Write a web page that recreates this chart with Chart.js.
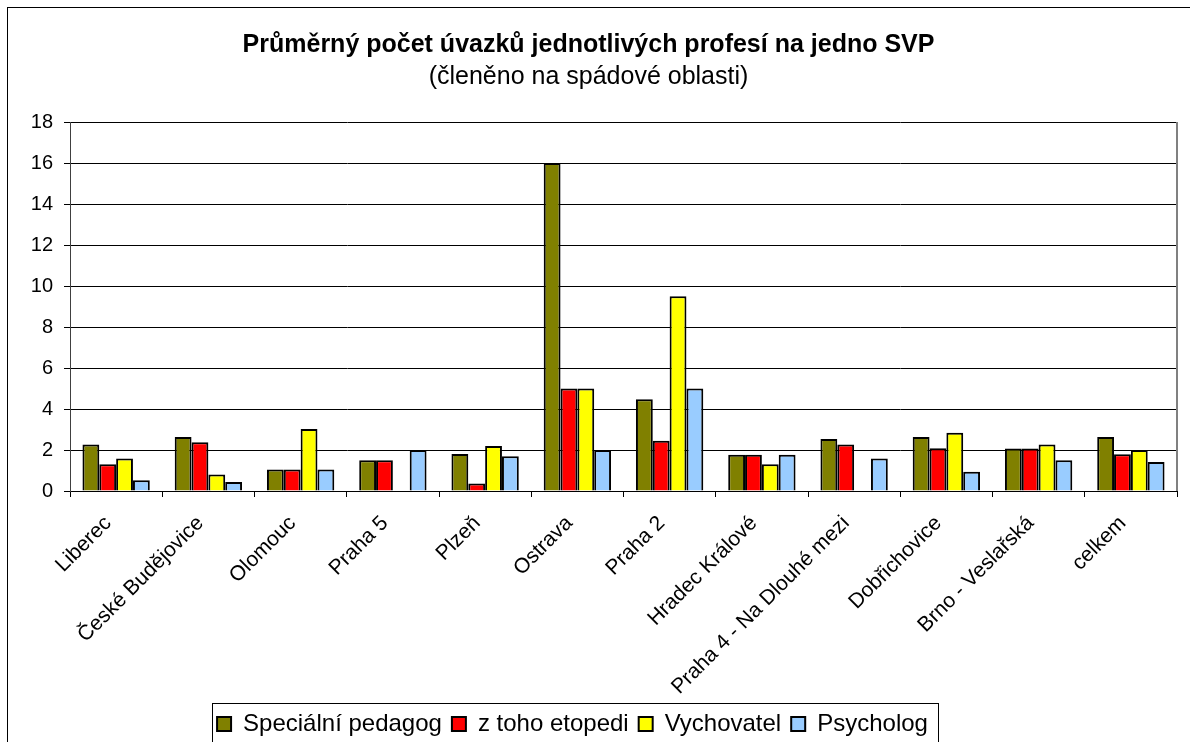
<!DOCTYPE html>
<html>
<head>
<meta charset="utf-8">
<script src="https://cdn.jsdelivr.net/npm/chart.js@4/dist/chart.umd.min.js"></script>
<style>
  html, body { margin: 0; padding: 0; background: #fff; overflow: hidden; }
  #wrap { position: relative; width: 1190px; height: 742px; }
</style>
</head>
<body>
<div id="wrap"><canvas id="c" width="1190" height="742"></canvas></div>
<script>
const categories = ['Liberec', 'České Budějovice', 'Olomouc', 'Praha 5', 'Plzeň', 'Ostrava', 'Praha 2', 'Hradec Králové', 'Praha 4 - Na Dlouhé mezi', 'Dobřichovice', 'Brno - Veslařská', 'celkem'];
const specialniPedagog = [2.27, 2.64, 1.05, 1.5, 1.8, 16, 4.47, 1.77, 2.54, 2.64, 2.07, 2.64];
const ztohoEtopedi = [1.3, 2.38, 1.05, 1.5, 0.36, 5, 2.45, 1.77, 2.27, 2.08, 2.07, 1.79];
const vychovatel = [1.58, 0.8, 3.03, null, 2.2, 5, 9.5, 1.3, null, 2.84, 2.27, 2.0];
const psycholog = [0.53, 0.44, 1.05, 2.0, 1.7, 2.0, 5.0, 1.77, 1.59, 0.94, 1.5, 1.41];
const seriesNames = ['Speciální pedagog', 'z toho etopedi', 'Vychovatel', 'Psycholog'];
const yTicks = [0, 2, 4, 6, 8, 10, 12, 14, 16, 18];
const titleText = 'Průměrný počet úvazků jednotlivých profesí na jedno SVP';
const subtitleText = '(členěno na spádové oblasti)';

const FONT = '"Liberation Sans", Arial, sans-serif';
const PLOT_LEFT = 70, PLOT_BOTTOM = 491;

const framePlugin = {
  id: 'frame',
  afterLayout(chart) {
    const lg = chart.legend;
    if (lg) { lg.left -= 16; lg.right -= 16; lg.top += 4; lg.bottom += 4; }
  },
  afterDraw(chart) {
    const ctx = chart.ctx;
    const a = chart.chartArea;
    ctx.save();
    ctx.strokeStyle = '#000';
    ctx.lineWidth = 1;
    ctx.strokeRect(7.5, 7.5, 1400, 1000);
    ctx.strokeStyle = '#808080';
    ctx.lineWidth = 2;
    ctx.beginPath();
    ctx.moveTo(a.right, a.top);
    ctx.lineTo(a.right, a.bottom);
    ctx.stroke();
    ctx.strokeStyle = '#000';
    ctx.lineWidth = 1;
    ctx.strokeRect(212.5, 703.5, 726, 80);
    ctx.restore();
  }
};

new Chart(document.getElementById('c'), {
  type: 'bar',
  data: {
    labels: categories,
    datasets: [
      { label: seriesNames[0], data: specialniPedagog, backgroundColor: '#808000' },
      { label: seriesNames[1], data: ztohoEtopedi, backgroundColor: '#FF0000' },
      { label: seriesNames[2], data: vychovatel, backgroundColor: '#FFFF00' },
      { label: seriesNames[3], data: psycholog, backgroundColor: '#99CCFF' }
    ].map(d => Object.assign(d, { borderColor: '#000', borderWidth: 2, barPercentage: 1.0, categoryPercentage: 0.73 }))
  },
  options: {
    responsive: false,
    animation: false,
    devicePixelRatio: 1,
    layout: { padding: { left: 0, right: 13, top: 0, bottom: 0 } },
    plugins: {
      title: {
        display: true, text: titleText, color: '#000',
        font: { family: FONT, size: 25, weight: 'bold', lineHeight: 1.2 },
        padding: { top: 30, bottom: 0 }
      },
      subtitle: {
        display: true, text: subtitleText, color: '#000',
        font: { family: FONT, size: 25, weight: 'normal', lineHeight: 1.2 },
        padding: { top: 2, bottom: 30 }
      },
      legend: {
        display: true, position: 'bottom',
        labels: {
          color: '#000', font: { family: FONT, size: 24 },
          boxWidth: 14, boxHeight: 14, padding: 10
        }
      },
      tooltip: { enabled: false }
    },
    scales: {
      x: {
        grid: { display: true, drawOnChartArea: false, drawTicks: true, tickLength: 6, color: '#000', offset: true },
        border: { display: true, color: '#000', width: 1 },
        ticks: { color: '#000', font: { family: FONT, size: 21 }, minRotation: 45, maxRotation: 45, padding: 14, labelOffset: -8, autoSkip: false },
        afterFit(scale) {
          const lh = scale.chart.legend ? scale.chart.legend.height : 0;
          scale.height = scale.chart.height - PLOT_BOTTOM - lh;
        }
      },
      y: {
        min: 0, max: 18,
        afterBuildTicks(scale) { scale.ticks = yTicks.map(v => ({ value: v })); },
        grid: { color: '#000', lineWidth: 1, tickLength: 6, tickColor: '#000' },
        border: { display: true, color: '#404040', width: 1 },
        ticks: { color: '#000', font: { family: FONT, size: 20 }, padding: 11 },
        afterFit(scale) { scale.width = PLOT_LEFT; }
      }
    }
  },
  plugins: [framePlugin]
});
</script>
</body>
</html>
